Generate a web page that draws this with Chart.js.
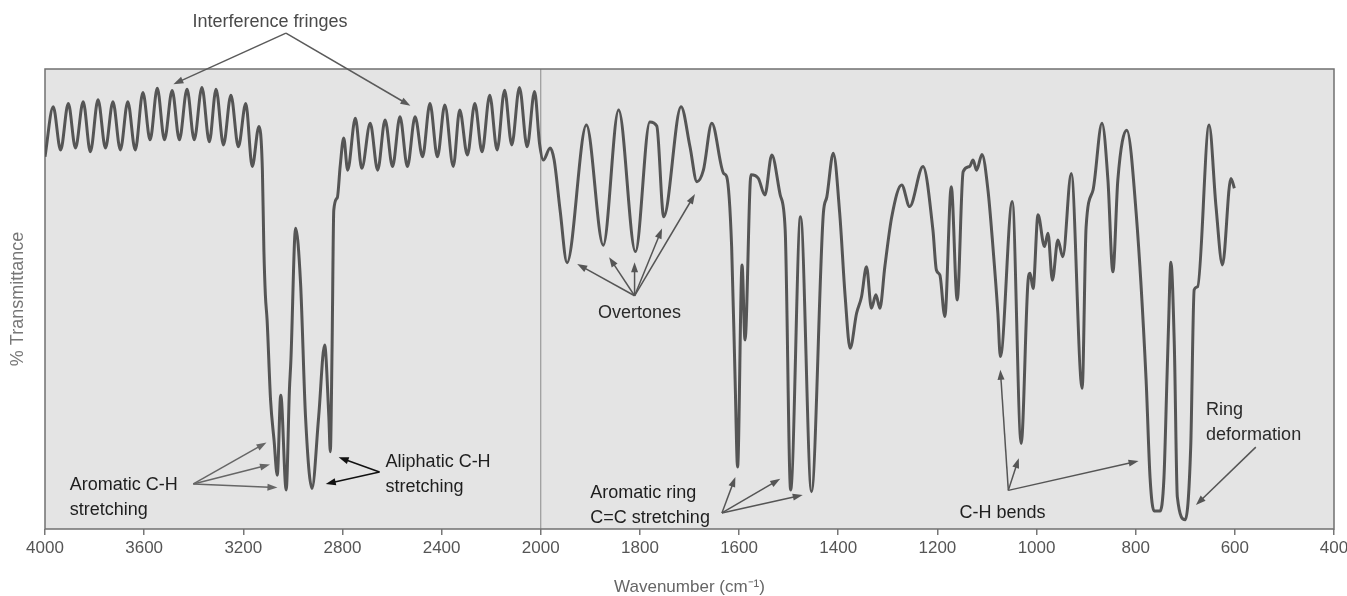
<!DOCTYPE html>
<html><head><meta charset="utf-8">
<script src="https://cdn.jsdelivr.net/npm/chart.js@4.4.1/dist/chart.umd.min.js"></script>
<style>html,body{margin:0;padding:0;background:#fff}#wrap{width:1347px;height:596px}</style>
</head><body><div id="wrap"><canvas id="c" width="1347" height="596"></canvas></div>
<script>
// ---- Data ----
const wavenumbers = [
  4000,3967,3937,3906,3877,3846,3817,3786,3756,3726,3696,3666,3636,3605,3576,3547,3518,3487,3458,3427,
  3398,3367,3337,3310,3280,3250,3220,3190,3164,3137,3123,3117,3111,3104,3090,3076,3063,3049,3027,3014,
  3008,2989,2969,2949,2923,2896,2872,2855,2849,2842,2835,2821,2809,2795,2779,2748,2722,2688,2658,2628,
  2598,2568,2538,2507,2477,2447,2417,2387,2353,2327,2296,2266,2237,2206,2176,2146,2117,2086,2055,2025,
  2005,1995,1981,1973,1961,1947,1908,1874,1843,1809,1780,1766,1752,1717,1699,1685,1672,1655,1631,1625,
  1615,1608,1603,1594,1588,1576,1561,1548,1534,1517,1507,1496,1476,1454,1430,1423,1410,1397,1386,1376,
  1363,1353,1343,1333,1324,1316,1306,1292,1272,1256,1229,1209,1202,1195,1185,1172,1160,1148,1135,1128,
  1121,1110,1098,1088,1078,1073,1049,1031,1017,1013,1007,997,984,977,968,957,947,930,908,900,
  886,868,856,846,836,818,799,779,771,763,751,743,737,734,729,722,716,700,689,682,
  675,652,638,625,608,601
];
const transmittance = [
  80.9,91.8,82.4,92.5,82.8,92.9,82.0,93.3,82.8,92.9,82.4,92.9,82.4,94.9,84.6,95.8,84.6,95.3,84.6,95.6,
  84.6,96.0,84.2,95.6,83.5,94.3,83.1,92.5,78.8,87.5,78.0,60.7,50.9,45.4,28.0,19.3,11.7,29.1,8.5,30.2,
  36.7,65.4,53.4,24.4,8.8,24.4,40.0,24.4,16.8,38.9,69.3,72.0,79.0,85.0,78.0,89.3,78.4,88.2,78.0,88.9,
  78.8,89.6,78.8,89.6,80.9,92.5,80.9,92.2,78.8,91.1,81.3,92.5,82.0,94.3,82.4,95.4,83.5,96.0,83.1,95.1,
  83.8,80.2,82.8,80.2,69.3,57.9,87.8,61.7,91.1,60.3,88.5,87.6,67.9,91.8,83.1,75.5,78.0,88.2,77.3,76.6,
  61.4,32.4,13.5,57.4,41.1,77.0,76.2,72.6,81.3,72.6,65.0,8.5,67.9,8.1,68.6,72.2,81.7,68.6,50.5,39.3,
  46.9,50.5,57.0,48.0,50.9,48.0,57.0,67.9,74.8,70.1,78.8,65.0,56.3,55.2,46.2,74.4,49.8,77.7,78.8,80.2,
  78.0,81.4,73.7,61.4,46.9,37.5,71.2,18.6,54.1,55.6,52.3,68.3,61.4,64.3,54.1,62.8,59.2,77.3,30.6,65.7,
  73.7,88.2,75.9,55.9,75.9,86.7,68.6,32.4,11.1,3.9,3.9,11.1,32.4,43.3,58.0,39.6,7.0,2.0,17.9,52.0,
  52.7,87.8,70.1,57.4,76.2,74.1
];
const xTickValues = [4000,3600,3200,2800,2400,2000,1800,1600,1400,1200,1000,800,600,400];
const xTickLabels = ['4000','3600','3200','2800','2400','2000','1800','1600','1400','1200','1000','800','600','400'];
const axisBreak = 2000;      // scale doubles below this wavenumber
const axisHigh = 4000;
const axisLow = 400;

const noteTexts = [
  { text: ['Interference fringes'], at: [3092, 110.2], align: 'center', color: '#4a4a4a' },
  { text: ['Aromatic C-H', 'stretching'], at: [3900, 9.6], align: 'left', color: '#1e1e1e' },
  { text: ['Aliphatic C-H', 'stretching'], at: [2626, 14.6], align: 'left', color: '#1e1e1e' },
  { text: ['Overtones'], at: [1801, 46.9], align: 'center', color: '#2a2a2a' },
  { text: ['Aromatic ring', 'C=C stretching'], at: [1900, 7.9], align: 'left', color: '#1e1e1e' },
  { text: ['C-H bends'], at: [1155.5, 3.4], align: 'left', color: '#1e1e1e' },
  { text: ['Ring', 'deformation'], at: [658, 25.9], align: 'left', color: '#2a2a2a' }
];
const noteArrows = [
  { from: [3028, 107.8], to: [[3482, 96.7], [2526, 92.0]], color: '#5a5a5a' },
  { from: [3401.6, 9.8], to: [[3106.4, 18.8], [3092.4, 14.0], [3062.3, 9.0]], color: '#666666' },
  { from: [2650.6, 12.4], to: [[2815.3, 15.6], [2867.5, 9.8]], color: '#111111' },
  { from: [1810.8, 50.7], to: [[1926.5, 57.6], [1862.1, 59.1], [1810.8, 58.0], [1755.4, 65.3], [1689, 72.8]], color: '#555555' },
  { from: [1634.6, 3.5], to: [[1607.5, 11.3], [1516.9, 10.9], [1471.6, 7.4]], color: '#555555' },
  { from: [1056.9, 8.4], to: [[1073, 34.6], [1035.8, 15.4], [794.2, 14.8]], color: '#555555' },
  { from: [557.7, 17.8], to: [[678.5, 5.2]], color: '#555555' }
];

// ---- Split (two-scale) wavenumber axis ----
const TOTAL = (axisHigh - axisBreak) + 2 * (axisBreak - axisLow);
class SplitScale extends Chart.LinearScale {
  getPixelForValue(v) {
    const u = v >= axisBreak ? (axisHigh - v) : (axisHigh - axisBreak) + 2 * (axisBreak - v);
    return this.getPixelForDecimal(u / TOTAL);
  }
  getValueForPixel(p) {
    const u = this.getDecimalForPixel(p) * TOTAL;
    return u <= (axisHigh - axisBreak) ? axisHigh - u : axisBreak - (u - (axisHigh - axisBreak)) / 2;
  }
}
SplitScale.id = 'split';
SplitScale.defaults = Chart.LinearScale.defaults;
Chart.register(SplitScale);

const FONT = "'Liberation Sans', Arial, Helvetica, sans-serif";
Chart.defaults.font.family = FONT;

const framePlugin = {
  id: 'frame',
  beforeDraw(chart) {
    const { ctx, chartArea: a } = chart;
    ctx.save();
    ctx.fillStyle = '#ffffff';
    ctx.fillRect(0, 0, chart.width, chart.height);
    ctx.fillStyle = '#e4e4e4';
    ctx.fillRect(a.left, a.top, a.right - a.left, a.bottom - a.top);
    ctx.restore();
  },
  beforeDatasetsDraw(chart) {
    const { ctx, chartArea: a } = chart;
    const xb = chart.scales.x.getPixelForValue(axisBreak);
    ctx.save();
    ctx.strokeStyle = '#8a8a8a';
    ctx.lineWidth = 1;
    ctx.beginPath(); ctx.moveTo(xb, a.top); ctx.lineTo(xb, a.bottom); ctx.stroke();
    ctx.strokeStyle = '#707070';
    ctx.lineWidth = 1.5;
    ctx.strokeRect(a.left, a.top, a.right - a.left, a.bottom - a.top);
    ctx.restore();
  }
};

function arrow(ctx, x0, y0, x1, y1, color) {
  const ang = Math.atan2(y1 - y0, x1 - x0);
  const L = 10, W = 3.5;
  ctx.strokeStyle = color; ctx.fillStyle = color; ctx.lineWidth = 1.5;
  ctx.beginPath(); ctx.moveTo(x0, y0);
  ctx.lineTo(x1 - Math.cos(ang) * L * 0.8, y1 - Math.sin(ang) * L * 0.8); ctx.stroke();
  ctx.beginPath();
  ctx.moveTo(x1, y1);
  ctx.lineTo(x1 - Math.cos(ang) * L - Math.sin(ang) * W, y1 - Math.sin(ang) * L + Math.cos(ang) * W);
  ctx.lineTo(x1 - Math.cos(ang) * L + Math.sin(ang) * W, y1 - Math.sin(ang) * L - Math.cos(ang) * W);
  ctx.closePath(); ctx.fill();
}

const notePlugin = {
  id: 'notes',
  afterDraw(chart) {
    const { ctx } = chart;
    const xs = chart.scales.x, ys = chart.scales.y;
    ctx.save();
    noteArrows.forEach(a => {
      const x0 = xs.getPixelForValue(a.from[0]), y0 = ys.getPixelForValue(a.from[1]);
      a.to.forEach(t => arrow(ctx, x0, y0, xs.getPixelForValue(t[0]), ys.getPixelForValue(t[1]), a.color));
    });
    ctx.font = '18px ' + FONT;
    ctx.textBaseline = 'middle';
    noteTexts.forEach(n => {
      ctx.fillStyle = n.color;
      ctx.textAlign = n.align;
      const x = xs.getPixelForValue(n.at[0]), y = ys.getPixelForValue(n.at[1]);
      n.text.forEach((line, i) => ctx.fillText(line, x, y + i * 25));
    });
    ctx.restore();
  }
};

new Chart(document.getElementById('c'), {
  type: 'line',
  data: {
    datasets: [{
      data: wavenumbers.map((w, i) => ({ x: w, y: transmittance[i] })),
      borderColor: '#555555',
      borderWidth: 3,
      pointRadius: 0,
      cubicInterpolationMode: 'monotone',
      fill: false
    }]
  },
  options: {
    responsive: false,
    animation: false,
    devicePixelRatio: 1,
    layout: { padding: { top: 69, right: 13, left: 0, bottom: 0 } },
    plugins: { legend: { display: false }, tooltip: { enabled: false } },
    scales: {
      x: {
        type: 'split',
        position: 'bottom',
        min: axisLow,
        max: axisHigh,
        afterBuildTicks: s => { s.ticks = xTickValues.map(v => ({ value: v })); },
        afterFit: s => { s.height = 67; s.paddingLeft = 0; s.paddingRight = 0; },
        ticks: {
          autoSkip: false, maxRotation: 0, minRotation: 0,
          color: '#555', font: { size: 17 }, padding: 3,
          callback: (v, i) => xTickLabels[i]
        },
        grid: { display: true, drawOnChartArea: false, drawTicks: true, tickLength: 6, color: '#777', tickColor: '#777', lineWidth: 1.5 },
        border: { display: false },
        title: { display: true, text: 'Wavenumber (cm\u207B\u00B9)', color: '#666', font: { size: 17, lineHeight: 1 }, padding: 0 }
      },
      y: {
        min: 0, max: 100,
        afterFit: s => { s.width = 45; },
        ticks: { display: false },
        grid: { display: false },
        border: { display: false },
        title: { display: true, text: '% Transmittance', color: '#777', font: { size: 18, lineHeight: 1 }, padding: { top: 9, bottom: 0 } }
      }
    }
  },
  plugins: [framePlugin, notePlugin]
});
</script>
</body></html>
